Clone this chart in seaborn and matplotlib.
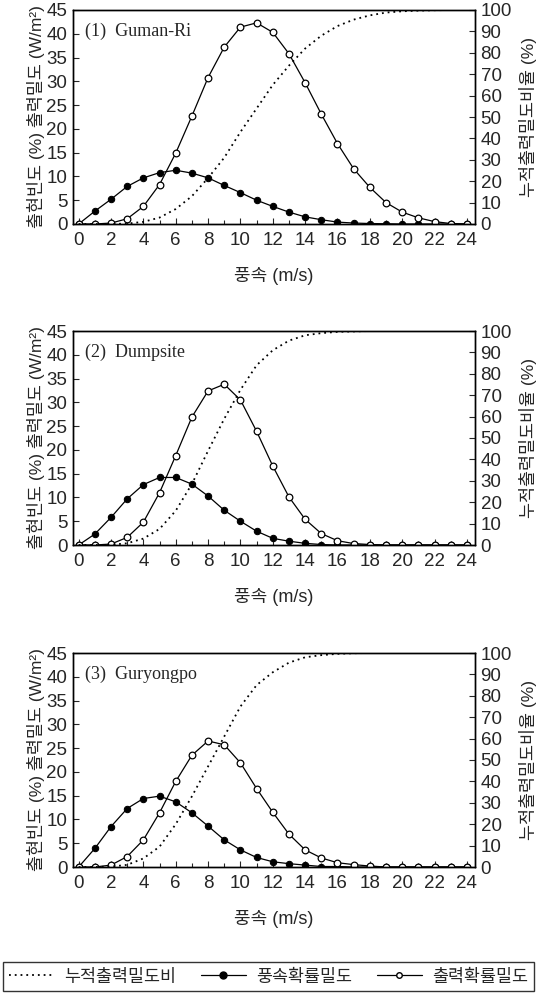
import numpy as np
import pandas as pd
import matplotlib
matplotlib.use("Agg")
import matplotlib.pyplot as plt
import seaborn as sns
from matplotlib.lines import Line2D
from matplotlib.ticker import MultipleLocator

# ---------------- data ----------------
wind_speed = list(range(0, 25))

titles = ["(1)  Guman-Ri", "(2)  Dumpsite", "(3)  Guryongpo"]

# wind speed probability density (%)
freq_guman = [0, 2.7, 5.2, 7.9, 9.7, 10.8, 11.3, 10.7, 9.7, 8.1, 6.6, 5.0, 3.7, 2.5,
              1.5, 0.9, 0.4, 0.2, 0.1, 0.05, 0, 0, 0, 0, 0]
freq_dump = [0, 2.3, 5.8, 9.7, 12.7, 14.2, 14.2, 12.8, 10.3, 7.3, 5.0, 2.9, 1.4, 0.8,
             0.35, 0.1, 0, 0, 0, 0, 0, 0, 0, 0, 0]
freq_guryong = [0, 3.9, 8.5, 12.3, 14.4, 14.9, 13.7, 11.4, 8.6, 5.7, 3.6, 2.0, 1.1, 0.7,
                0.4, 0.1, 0.1, 0, 0, 0, 0, 0, 0, 0, 0]

# power probability density (W/m2)
power_guman = [0, 0, 0.2, 1.1, 3.7, 8.3, 14.9, 22.7, 30.8, 37.2, 41.4, 42.3, 40.3, 35.8,
               29.7, 23.1, 16.9, 11.6, 7.7, 4.5, 2.5, 1.3, 0.5, 0.1, 0]
power_dump = [0, 0, 0.2, 1.6, 4.8, 11.0, 18.8, 26.9, 32.4, 33.8, 30.5, 23.9, 16.6, 10.1,
              5.4, 2.4, 0.9, 0.3, 0.1, 0, 0, 0, 0, 0, 0]
power_guryong = [0, 0, 0.4, 2.2, 5.7, 11.4, 18.0, 23.5, 26.5, 25.7, 21.9, 16.5, 11.5, 6.9,
                 3.6, 1.9, 0.9, 0.5, 0.2, 0, 0, 0, 0, 0, 0]

# cumulative power density ratio (%)
cum_guman = [0, 0, 0, 0.2, 1, 3, 7, 13, 21.5, 31, 43, 54, 65, 74, 82, 88, 92.5, 95.5,
             97.5, 98.8, 99.4, 99.7, 99.9, 100, 100]
cum_dump = [0, 0, 0.1, 0.8, 3, 7.5, 16, 28.5, 44, 59, 72.5, 84, 91, 95.5, 98, 99, 99.6,
            99.8, 100, 100, 100, 100, 100, 100, 100]
cum_guryong = [0, 0, 0.2, 1, 4, 9.5, 20, 33, 47, 61, 75, 85, 91, 95.5, 98, 99, 99.6,
               99.9, 100, 100, 100, 100, 100, 100, 100]

freqs = [freq_guman, freq_dump, freq_guryong]
powers = [power_guman, power_dump, power_guryong]
cums = [cum_guman, cum_dump, cum_guryong]

left_ticks = list(range(0, 50, 5))
right_ticks = list(range(0, 110, 10))
x_ticks = list(range(0, 26, 2))

legend_labels = ["누적출력밀도비", "풍속확률밀도", "출력확률밀도"]

# ---------------- style ----------------
sns.set_style("ticks")
plt.rcParams['font.family'] = ['Liberation Sans', 'Noto Sans CJK KR', 'DejaVu Sans']
plt.rcParams['axes.linewidth'] = 1.0
plt.rcParams['xtick.direction'] = 'in'
plt.rcParams['ytick.direction'] = 'in'

W, H = 536, 1001
fig = plt.figure(figsize=(W / 100, H / 100), dpi=100)

panel_tops = [10, 331, 653]
ax_h = 214
ax_left = 73
ax_w = 402

for i in range(3):
    top = panel_tops[i]
    ax = fig.add_axes([ax_left / W, 1 - (top + ax_h) / H, ax_w / W, ax_h / H])
    df = pd.DataFrame({"ws": wind_speed, "freq": freqs[i], "power": powers[i], "cum": cums[i]})

    ax2 = ax.twinx()
    sns.lineplot(data=df, x="ws", y="cum", ax=ax2, color="black", linestyle=(0, (1, 2.2)),
                 linewidth=1.3, legend=False)
    sns.lineplot(data=df, x="ws", y="freq", ax=ax, color="black", linewidth=0.9,
                 marker="o", markersize=4.6, markerfacecolor="black",
                 markeredgecolor="black", legend=False)
    sns.lineplot(data=df, x="ws", y="power", ax=ax, color="black", linewidth=0.9,
                 marker="o", markersize=4.8, markerfacecolor="white",
                 markeredgecolor="black", markeredgewidth=0.9, legend=False)

    ax.set_xlim(-0.35, 24.5)
    ax.set_ylim(0, 45)
    ax2.set_ylim(0, 100)
    ax.set_xticks(x_ticks)
    ax.xaxis.set_minor_locator(MultipleLocator(1))
    ax.set_yticks(left_ticks)
    ax2.set_yticks(right_ticks)
    ax.tick_params(axis='both', which='major', labelsize=13.5, length=4, width=0.8, pad=4)
    ax.tick_params(axis='x', which='minor', length=3, width=0.8)
    ax.tick_params(axis='x', which='major', pad=6)
    ax2.tick_params(axis='y', labelsize=13.5, length=4, width=0.8, pad=4)
    ax.set_xlabel("풍속 (m/s)", fontsize=13, labelpad=13)
    ax.set_ylabel("출현빈도 (%) 출력밀도 (W/m²)", fontsize=12.5, labelpad=1)
    ax2.set_ylabel("누적출력밀도비율 (%)", fontsize=12.5, labelpad=5)
    for a in (ax, ax2):
        for s in a.spines.values():
            s.set_visible(True)
            s.set_color("black")
    ax.text(0.03, 0.94, titles[i], transform=ax.transAxes, fontsize=13,
            family=['Liberation Serif'], va='top', ha='left')

handles = [
    Line2D([], [], color="black", linestyle=(0, (1, 2.2)), linewidth=1.3),
    Line2D([], [], color="black", linewidth=0.9, marker="o", markersize=5,
           markerfacecolor="black", markeredgecolor="black"),
    Line2D([], [], color="black", linewidth=0.9, marker="o", markersize=4,
           markerfacecolor="white", markeredgecolor="black"),
]
leg = fig.legend(handles, legend_labels, loc="center", bbox_to_anchor=(268.5 / W, 1 - 976.5 / H),
                 ncol=3, frameon=True, fancybox=False, fontsize=12.5, handlelength=2.6,
                 columnspacing=1.4, handletextpad=0.6, borderpad=0.35)
leg.get_frame().set_edgecolor("black")
leg.get_frame().set_linewidth(1.0)

fig.savefig("out.png", dpi=100)
